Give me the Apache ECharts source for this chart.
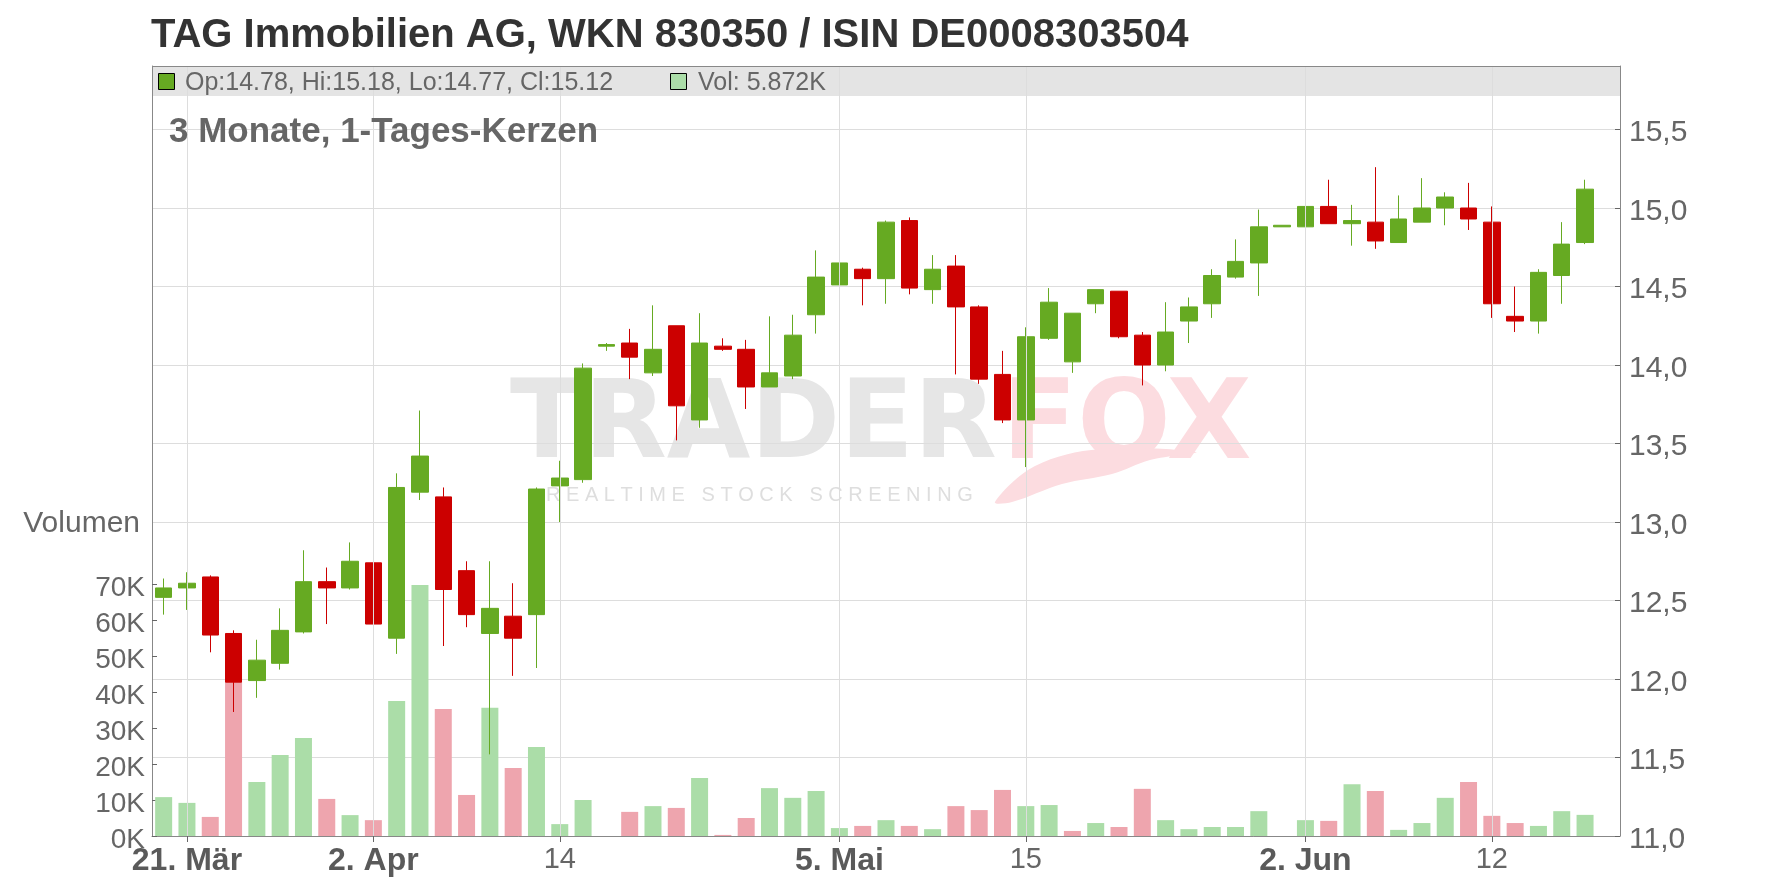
<!DOCTYPE html>
<html>
<head>
<meta charset="utf-8">
<script src="https://cdn.jsdelivr.net/npm/echarts@6/dist/echarts.min.js"></script>
<style>
html,body{margin:0;padding:0;background:#fff;}
#chart{width:1776px;height:888px;}
</style>
</head>
<body>
<div id="chart"></div>
<script>
// ---- data ----
const dates = ['20.03','21.03','24.03','25.03','26.03','27.03','28.03','31.03','01.04','02.04',
  '03.04','04.04','07.04','08.04','09.04','10.04','11.04','14.04','15.04','16.04',
  '17.04','22.04','23.04','24.04','25.04','28.04','29.04','30.04','02.05','05.05',
  '06.05','07.05','08.05','09.05','12.05','13.05','14.05','15.05','16.05','19.05',
  '20.05','21.05','22.05','23.05','26.05','27.05','28.05','29.05','30.05','02.06',
  '03.06','04.06','05.06','06.06','09.06','10.06','11.06','12.06','13.06','16.06',
  '17.06','18.06'];
const openV  = [12.52,12.58,12.65,12.29,11.99,12.10,12.30,12.62,12.58,12.74,
  12.26,13.19,13.16,12.69,12.29,12.40,12.41,13.23,13.27,14.12,
  14.14,13.95,14.25,13.65,14.12,14.10,13.86,13.93,14.32,14.51,
  14.61,14.55,14.92,14.48,14.63,14.37,13.94,13.65,14.17,14.02,
  14.39,14.47,14.19,14.00,14.28,14.39,14.56,14.65,14.88,14.88,
  15.01,14.90,14.91,14.78,14.91,15.00,15.00,14.91,14.31,14.28,
  14.57,14.78];
const highV  = [12.64,12.68,12.66,12.31,12.25,12.45,12.82,12.71,12.87,12.75,
  13.31,13.71,13.22,12.75,12.75,12.61,13.22,13.39,14.01,14.14,
  14.23,14.38,14.25,14.33,14.17,14.16,14.31,14.32,14.73,14.65,
  14.62,14.92,14.94,14.70,14.70,14.38,14.09,14.24,14.49,14.33,
  14.48,14.47,14.21,14.40,14.43,14.61,14.80,14.99,14.89,15.02,
  15.18,15.02,15.26,15.08,15.19,15.10,15.16,15.01,14.50,14.61,
  14.91,15.18];
const lowV   = [12.41,12.44,12.17,11.79,11.88,12.06,12.29,12.35,12.57,12.28,
  12.16,13.14,12.21,12.33,11.52,12.02,12.07,13.00,13.25,14.09,
  13.91,13.93,13.52,13.60,14.09,13.72,13.86,13.91,14.20,14.45,
  14.38,14.39,14.45,14.39,13.94,13.88,13.63,13.35,14.16,13.95,
  14.33,14.17,13.87,13.96,14.14,14.30,14.55,14.44,14.88,14.64,
  14.90,14.76,14.74,14.78,14.91,14.89,14.86,14.30,14.21,14.20,
  14.39,14.77];
const closeV = [12.58,12.61,12.28,11.98,12.12,12.31,12.62,12.58,12.75,12.35,
  13.22,13.42,12.57,12.41,12.45,12.26,13.21,13.28,13.98,14.13,
  14.05,14.10,13.74,14.14,14.10,13.86,13.95,14.19,14.56,14.65,
  14.55,14.91,14.49,14.61,14.37,13.91,13.65,14.18,14.40,14.33,
  14.48,14.18,14.00,14.21,14.37,14.57,14.66,14.88,14.89,15.01,
  14.90,14.92,14.79,14.93,15.00,15.07,14.93,14.39,14.28,14.59,
  14.77,15.12];
const volumeK = [10.8,9.2,5.3,50,15.0,22.5,27.2,10.3,5.8,4.4,
  37.5,69.7,35.3,11.4,35.6,18.9,24.7,3.3,10.0,0,
  6.7,8.3,7.8,16.1,0.3,5.0,13.3,10.6,12.5,2.2,
  2.8,4.4,2.8,1.9,8.3,7.2,12.8,8.3,8.6,1.4,
  3.6,2.5,13.1,4.4,1.9,2.5,2.5,6.9,0,4.4,
  4.2,14.4,12.5,1.7,3.6,10.6,15.0,5.6,3.6,2.8,
  6.9,5.872];
// date -> [axis label, bold]
const xTickLabels = {'21.03':['21. Mär',true],'02.04':['2. Apr',true],'14.04':['14',false],
  '05.05':['5. Mai',true],'15.05':['15',false],'02.06':['2. Jun',true],'12.06':['12',false]};
const priceTicks = [11,11.5,12,12.5,13,13.5,14,14.5,15,15.5];
const volumeTicks = [0,10,20,30,40,50,60,70];
const titleText = 'TAG Immobilien AG, WKN 830350 / ISIN DE0008303504';
const subtitleText = '3 Monate, 1-Tages-Kerzen';

// ---- build ----
const cats = dates.concat(['']);
const candleData = dates.map((d,i)=>[openV[i],closeV[i],lowV[i],highV[i]]);
const GREEN='#66aa22', RED='#cc0000', VGREEN='#abdda8', VRED='#eea5ae';
const volData = volumeK.map((v,i)=>({
  value:v,
  itemStyle:{color:(i===0||closeV[i]>=closeV[i-1])?VGREEN:VRED}
}));
const gridMarks = [];
dates.forEach((d,i)=>{ if(xTickLabels[d]) gridMarks.push({xAxis:i}); });
const isLabeled = (idx)=> !!xTickLabels[cats[idx]];
const last = dates.length-1;
const legendText = 'Op:'+openV[last].toFixed(2)+', Hi:'+highV[last].toFixed(2)+', Lo:'+lowV[last].toFixed(2)+', Cl:'+closeV[last].toFixed(2);
const volText = 'Vol: '+volumeK[last].toFixed(3)+'K';

const FONT='"Liberation Sans", Arial, sans-serif';
const WFONT='"DejaVu Sans", sans-serif';
const L=152, R=1620, T=66, B=836;
const chart = echarts.init(document.getElementById('chart'),null,{renderer:'canvas'});
chart.setOption({
  animation:false,
  backgroundColor:'#ffffff',
  textStyle:{fontFamily:FONT},
  grid:{left:L,right:1776-R,top:T,bottom:888-B},
  xAxis:{
    type:'category', data:cats, boundaryGap:true,
    axisLine:{lineStyle:{color:'#888888',width:1}},
    axisTick:{show:true,alignWithLabel:true,length:6,interval:(i)=>isLabeled(i),lineStyle:{color:'#666666'}},
    axisLabel:{interval:(i)=>isLabeled(i),margin:9,
      formatter:(v)=>{const t=xTickLabels[v]; if(!t) return ''; return t[1]?'{b|'+t[0]+'}':'{r|'+t[0]+'}';},
      rich:{b:{fontSize:32,fontWeight:'bold',color:'#5a5a5a',fontFamily:FONT},
            r:{fontSize:29,color:'#666666',fontFamily:FONT}}},
    splitLine:{show:false}
  },
  yAxis:[{
    type:'value', position:'left', min:0, max:(B-T)/3.6,
    axisLine:{show:true,lineStyle:{color:'#888888'}},
    axisTick:{show:true,inside:true,length:5,customValues:volumeTicks,lineStyle:{color:'#666666'}},
    axisLabel:{customValues:volumeTicks,formatter:(v)=>'{a|'+Math.round(v)+'K}',margin:7,
      rich:{a:{fontSize:28,color:'#666666',fontFamily:FONT,padding:[9,0,0,0]}}},
    splitLine:{show:false}
  },{
    type:'value', position:'right', min:11, max:11+(B-T)/157, interval:0.5,
    axisLine:{show:true,lineStyle:{color:'#888888'}},
    axisTick:{show:true,inside:true,length:5,customValues:priceTicks,lineStyle:{color:'#666666'}},
    axisLabel:{customValues:priceTicks,formatter:(v)=>'{a|'+v.toFixed(1).replace('.',',')+'}',margin:9,
      rich:{a:{fontSize:30,color:'#666666',fontFamily:FONT,padding:[7,0,0,0]}}},
    splitLine:{show:true,lineStyle:{color:'#dddddd',width:1}}
  }],
  graphic:[
    {type:'text',z:0,style:{x:510,y:429,text:'TRADER',font:'bold 108px '+WFONT,fill:'#e6e6e6',verticalAlign:'middle'}},
    {type:'text',z:0,style:{x:1002,y:429,text:'FOX',font:'bold 110px '+WFONT,fill:'#fcdce0',verticalAlign:'middle'}},
    {type:'polygon',z:0,shape:{smooth:0.35,points:[[995,502],[1035,466],[1100,449],[1196,452],[1150,460],[1112,474],[1062,484],[1012,502]]},style:{fill:'#fcdce0'}},
    {type:'text',z:0,style:{x:546,y:495,text:'R E A L T I M E   S T O C K   S C R E E N I N G',font:'20px '+FONT,fill:'#dedede',verticalAlign:'middle'}},
    {type:'text',z:10,style:{x:151,y:36,text:titleText,font:'bold 40px '+FONT,fill:'#333333',verticalAlign:'middle'}},
    {type:'rect',z:0,shape:{x:L,y:T,width:R-L,height:30},style:{fill:'#e4e4e4'}},
    {type:'line',z:10,shape:{x1:L,y1:T+0.5,x2:R,y2:T+0.5},style:{stroke:'#888888',lineWidth:1}},
    {type:'rect',z:10,shape:{x:158.5,y:73.5,width:16,height:16},style:{fill:GREEN,stroke:'#000000',lineWidth:1}},
    {type:'text',z:10,style:{x:185,y:83,text:legendText,font:'25px '+FONT,fill:'#666666',verticalAlign:'middle'}},
    {type:'rect',z:10,shape:{x:670.5,y:73.5,width:16,height:16},style:{fill:VGREEN,stroke:'#000000',lineWidth:1}},
    {type:'text',z:10,style:{x:698,y:83,text:volText,font:'25px '+FONT,fill:'#666666',verticalAlign:'middle'}},
    {type:'text',z:10,style:{x:169,y:132,text:subtitleText,font:'bold 35px '+FONT,fill:'#666666',verticalAlign:'middle'}},
    {type:'text',z:10,style:{x:140,y:524,text:'Volumen',font:'30px '+FONT,fill:'#666666',verticalAlign:'middle',align:'right'}}
  ],
  series:[{
    type:'line', name:'grid', data:cats.map(()=>null), z:1, silent:true, symbol:'none',
    markLine:{silent:true,symbol:['none','none'],label:{show:false},
      lineStyle:{color:'#dddddd',width:1,type:'solid'},data:gridMarks}
  },{
    type:'bar', name:'Volumen', yAxisIndex:0, data:volData, barWidth:17, z:2, silent:true
  },{
    type:'candlestick', name:'Kurs', yAxisIndex:1, data:candleData, barWidth:17, z:3, silent:true,
    itemStyle:{color:GREEN,color0:RED,borderColor:GREEN,borderColor0:RED,borderWidth:1}
  }]
});
</script>
</body>
</html>
